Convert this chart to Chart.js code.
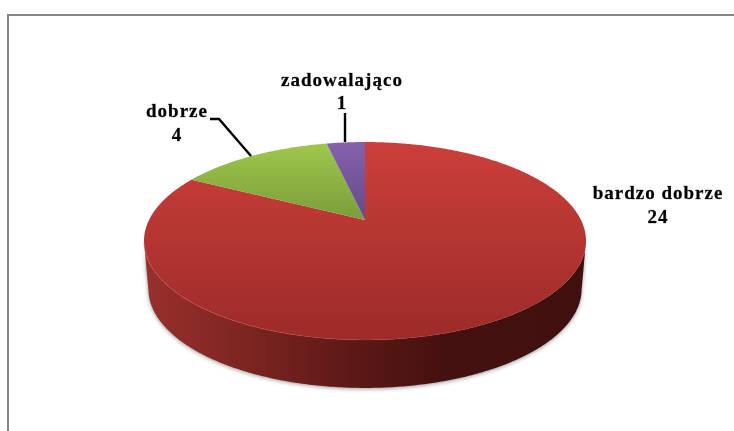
<!DOCTYPE html>
<html>
<head>
<meta charset="utf-8">
<title>Oceny</title>
<script src="https://cdn.jsdelivr.net/npm/chart.js@4"></script>
<style>
  html, body { margin: 0; padding: 0; background: #fff; }
  canvas { display: block; }
</style>
</head>
<body>
<canvas id="wykres" width="734" height="431"></canvas>
<script>
const categories = ['bardzo dobrze', 'dobrze', 'zadowalająco'];
const values = [24, 4, 1];

const topColors = ['#cc3f3b', '#a0c84c', '#8661ae'];
const bottomColors = ['#9c2b28', '#405a1f', '#352350'];

// rzut perspektywiczny: srodek kola nie wypada w srodku elipsy
const view = { cx: 365, apexY: 220, a: 216, b: 94.5, k: -0.212, depth: 48, shrink: 0.98, midY: 241 };

function rim(angle) {
  const u = Math.cos(angle), v = Math.sin(angle);
  const d = 1 + view.k * v;
  return { x: view.cx + view.a * u / d, y: view.apexY + view.b * v / d };
}

function rimPoints(start, end) {
  const n = Math.max(2, Math.ceil((end - start) / 0.01));
  const pts = [];
  for (let i = 0; i <= n; i++) pts.push(rim(start + (end - start) * i / n));
  return pts;
}

const pie3d = {
  id: 'pie3d',
  beforeDatasetsDraw(chart) {
    const ctx = chart.ctx;
    const arcs = chart.getDatasetMeta(0).data;

    // ramka
    ctx.fillStyle = '#868686';
    ctx.fillRect(7, 14, 727, 2);
    ctx.fillRect(7, 14, 2, 417);

    // bok
    const wall = ctx.createLinearGradient(145, 0, 585, 0);
    wall.addColorStop(0, '#98302c');
    wall.addColorStop(0.25, '#7a2420');
    wall.addColorStop(0.5, '#591715');
    wall.addColorStop(0.68, '#451110');
    wall.addColorStop(1, '#3f100f');
    arcs.forEach(arc => {
      const front = rimPoints(arc.startAngle, arc.endAngle).filter(p => p.y >= view.midY);
      if (front.length < 2) return;
      ctx.save();
      ctx.shadowColor = 'rgba(0,0,0,0.4)';
      ctx.shadowBlur = 4;
      ctx.shadowOffsetY = 1;
      ctx.beginPath();
      front.forEach((p, i) => i ? ctx.lineTo(p.x, p.y) : ctx.moveTo(p.x, p.y));
      front.slice().reverse().forEach(p => {
        ctx.lineTo(view.cx + (p.x - view.cx) * view.shrink, p.y + view.depth);
      });
      ctx.closePath();
      ctx.fillStyle = wall;
      ctx.fill();
      ctx.restore();
    });

    // wierzch
    arcs.forEach((arc, i) => {
      const grad = ctx.createLinearGradient(0, 142, 0, 340);
      grad.addColorStop(0, topColors[i]);
      grad.addColorStop(1, bottomColors[i]);
      ctx.beginPath();
      ctx.moveTo(view.cx, view.apexY);
      rimPoints(arc.startAngle, arc.endAngle).forEach(p => ctx.lineTo(p.x, p.y));
      ctx.closePath();
      ctx.fillStyle = grad;
      ctx.fill();
    });

    // jasna krawedz z przodu
    const edge = ctx.createLinearGradient(145, 0, 585, 0);
    edge.addColorStop(0, 'rgba(226,96,90,0.5)');
    edge.addColorStop(0.6, 'rgba(200,70,65,0.2)');
    edge.addColorStop(1, 'rgba(180,60,55,0.05)');
    arcs.forEach(arc => {
      const front = rimPoints(arc.startAngle, arc.endAngle).filter(p => p.y >= view.midY);
      if (front.length < 2) return;
      ctx.beginPath();
      front.forEach((p, i) => i ? ctx.lineTo(p.x, p.y) : ctx.moveTo(p.x, p.y));
      ctx.strokeStyle = edge;
      ctx.lineWidth = 1;
      ctx.stroke();
    });
    return false;
  },
  // afterDatasetsDraw nie rusza po return false, wiec podpisy tutaj
  afterDraw(chart, args, opts) {
    const ctx = chart.ctx;
    ctx.save();
    ctx.strokeStyle = '#000';
    ctx.lineWidth = 2.4;
    opts.leaders.forEach(line => {
      ctx.beginPath();
      line.forEach((p, i) => i ? ctx.lineTo(p[0], p[1]) : ctx.moveTo(p[0], p[1]));
      ctx.stroke();
    });
    ctx.fillStyle = '#000';
    ctx.strokeStyle = 'rgba(0,0,0,0.6)';
    ctx.lineWidth = 0.4;
    ctx.font = 'bold 19px "Liberation Serif"';
    ctx.letterSpacing = '1px';
    ctx.textAlign = 'center';
    ctx.textBaseline = 'middle';
    opts.labels.forEach((pos, i) => {
      ctx.fillText(categories[i], pos[0], pos[1]);
      ctx.strokeText(categories[i], pos[0], pos[1]);
      ctx.fillText(String(values[i]), pos[0], pos[1] + pos[2]);
      ctx.strokeText(String(values[i]), pos[0], pos[1] + pos[2]);
    });
    ctx.restore();
  }
};

new Chart(document.getElementById('wykres').getContext('2d'), {
  type: 'pie',
  data: {
    labels: categories,
    datasets: [{ data: values, backgroundColor: topColors }]
  },
  options: {
    responsive: false,
    animation: false,
    plugins: {
      legend: { display: false },
      tooltip: { enabled: false },
      pie3d: {
        labels: [[658, 194, 24], [177, 112, 24], [342, 81, 23]],
        leaders: [[[210, 119], [219, 119], [251, 156]], [[345, 113], [345, 142]]]
      }
    }
  },
  plugins: [pie3d]
});
</script>
</body>
</html>
